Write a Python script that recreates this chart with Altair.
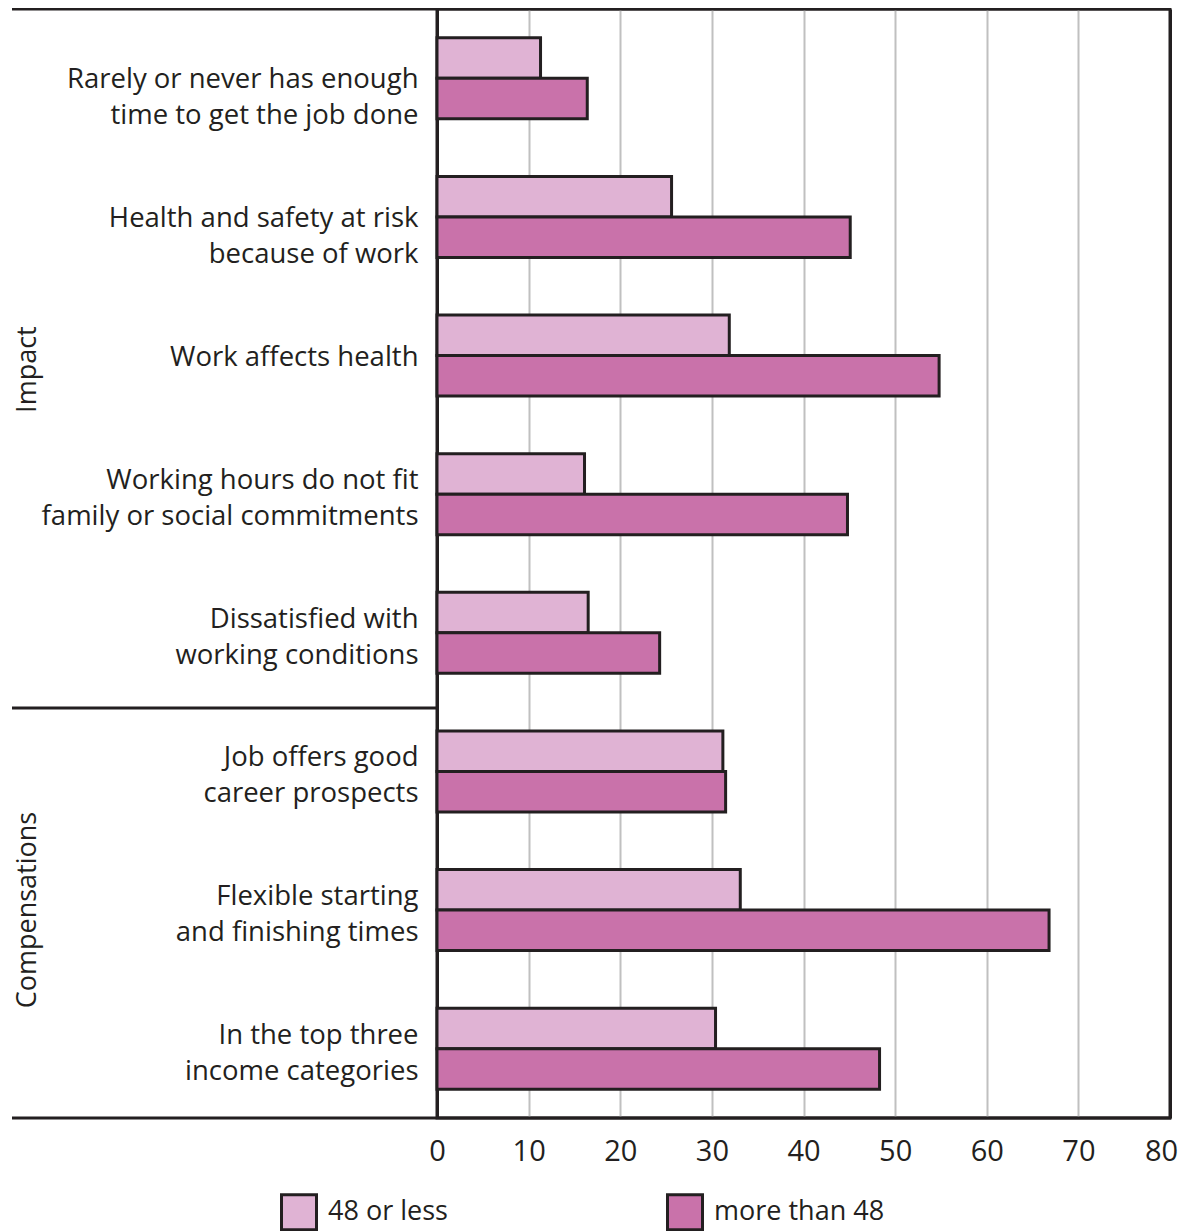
import altair as alt
import pandas as pd

# ---------------- data ----------------
categories = [
    "Rarely or never has enough|time to get the job done",
    "Health and safety at risk|because of work",
    "Work affects health",
    "Working hours do not fit|family or social commitments",
    "Dissatisfied with|working conditions",
    "Job offers good|career prospects",
    "Flexible starting|and finishing times",
    "In the top three|income categories",
]
series_names = ["48 or less", "more than 48"]
values_48_or_less = [11.3, 25.6, 31.9, 16.1, 16.5, 31.2, 33.1, 30.4]
values_more_than_48 = [16.4, 45.1, 54.8, 44.8, 24.3, 31.5, 66.8, 48.3]
group_names = ["Impact", "Compensations"]
group_mid_categories = [categories[2], categories[6]]
x_ticks = [0, 10, 20, 30, 40, 50, 60, 70, 80]
colors = ["#e0b3d4", "#c972aa"]
centered_labels = categories[3:]  # two-line labels drawn centred on their bars

rows = []
for c, a, b in zip(categories, values_48_or_less, values_more_than_48):
    rows.append({"category": c, "series": series_names[0], "value": a})
    rows.append({"category": c, "series": series_names[1], "value": b})
df = pd.DataFrame(rows)
groups_df = pd.DataFrame({"group": group_names, "category": group_mid_categories})
one = pd.DataFrame({"k": [0]})

FONT = "Open Sans"
INK = "#231f20"
W, H = 733, 1109
LINE_H = 36

y_scale = alt.Scale(domain=categories, paddingInner=0.415, paddingOuter=0.2075)

centered_test = "indexof([%s], datum.value) >= 0" % ", ".join("'%s'" % c for c in centered_labels)
edge_test = "datum.value == 0 || datum.value == 80"

y_axis = alt.Axis(
    title=None, domain=False, ticks=False, grid=False,
    labelExpr="split(datum.label, '|')",
    labelFont=FONT, labelFontSize=27.5, labelColor=INK,
    labelLineHeight=LINE_H, labelPadding=19, labelLimit=500,
    labelOffset={"condition": {"test": centered_test, "value": -13}, "value": 2},
)

bars = alt.Chart(df).mark_bar(stroke=INK, strokeWidth=3).encode(
    y=alt.Y("category:N", scale=y_scale, axis=y_axis),
    yOffset=alt.YOffset("series:N", sort=series_names,
                        scale=alt.Scale(paddingInner=0, paddingOuter=0)),
    x=alt.X(
        "value:Q",
        scale=alt.Scale(domain=[0, 80], nice=False),
        axis=alt.Axis(
            values=x_ticks, title=None, domain=False, ticks=False, grid=True,
            gridColor={"condition": {"test": edge_test, "value": INK}, "value": "#c0c0c0"},
            gridWidth={"condition": {"test": edge_test, "value": 3}, "value": 2},
            format="d",
            labelFont=FONT, labelFontSize=29, labelColor=INK, labelPadding=19,
            labelFlush=False, labelOverlap=False,
            labelOffset={"condition": {"test": "datum.value == 80", "value": -9}, "value": 0},
        ),
    ),
    color=alt.Color(
        "series:N",
        scale=alt.Scale(domain=series_names, range=colors),
        legend=alt.Legend(
            title=None, orient="none", legendX=-157, legendY=1184,
            direction="horizontal", symbolType="square", symbolSize=1225,
            symbolStrokeColor=INK, symbolStrokeWidth=3, symbolOpacity=1,
            labelFont=FONT, labelFontSize=27, labelColor=INK, labelOffset=10,
            labelLimit=400, columnPadding=213, padding=0,
        ),
    ),
)

impact_text = alt.Chart(groups_df).transform_filter(
    alt.datum.group == group_names[0]
).mark_text(
    angle=270, font=FONT, fontSize=27, color=INK, align="center", baseline="middle", dx=-14
).encode(
    y=alt.Y("category:N", scale=y_scale, axis=y_axis),
    x=alt.value(-409),
    text="group:N",
)
comp_text = alt.Chart(groups_df).transform_filter(
    alt.datum.group == group_names[1]
).mark_text(
    angle=270, font=FONT, fontSize=27, color=INK, align="center", baseline="middle"
).encode(
    y=alt.Y("category:N", scale=y_scale, axis=y_axis),
    x=alt.value(-409),
    text="group:N",
)

top_ext = alt.Chart(one).mark_rule(color=INK, strokeWidth=3).encode(
    x=alt.value(-425), x2=alt.value(W + 1), y=alt.value(0))
bottom_ext = alt.Chart(one).mark_rule(color=INK, strokeWidth=3).encode(
    x=alt.value(-425), x2=alt.value(W + 1), y=alt.value(H))
separator = alt.Chart(one).mark_rule(color=INK, strokeWidth=3).encode(
    x=alt.value(-425), x2=alt.value(0), y=alt.value(699))

chart = alt.layer(top_ext, bottom_ext, separator, bars, impact_text, comp_text).properties(
    width=W, height=H,
    autosize=alt.AutoSizeParams(type="none"),
    padding={"left": 429, "top": 1, "right": 8, "bottom": 120},
).configure_view(stroke=INK, strokeWidth=3)

chart.save("out.html", embed_options={"renderer": "svg", "actions": False})
